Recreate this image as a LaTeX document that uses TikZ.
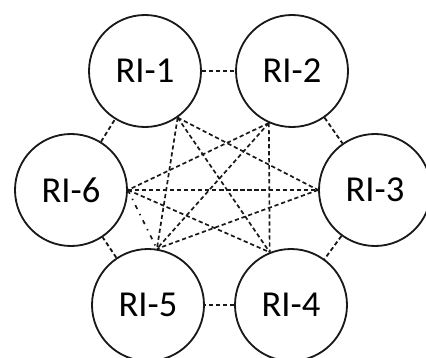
\documentclass[tikz,border=0pt]{standalone}
\usepackage{fontspec}
\setmainfont{Carlito}
\usetikzlibrary{arrows.meta}
\definecolor{myblack}{gray}{0.1}

\begin{document}
\begin{tikzpicture}[x=1cm, y=1cm,
    ri/.style={draw=myblack, circle, line width=1.3pt, minimum size=2.8cm, inner sep=0pt, font=\fontsize{26}{30}\selectfont},
    link/.style={draw=myblack, line width=1.3pt, dash pattern=on 3pt off 2pt},
    cross/.style={draw=myblack, line width=1.2pt, dash pattern=on 3pt off 2pt},
    weak/.style={draw=myblack, line width=1.2pt, dash pattern=on 3pt off 4pt on 1pt off 4pt}]
    \useasboundingbox (0,0) rectangle (10.65,-8.95);
    % routing instances
    \node[ri] (r1) at (3.625,-1.775) {RI-1};
    \node[ri] (r2) at (7.3,-1.775) {RI-2};
    \node[ri] (r3) at (9.375,-4.75) {RI-3};
    \node[ri] (r4) at (7.275,-7.625) {RI-4};
    \node[ri] (r5) at (3.7,-7.625) {RI-5};
    \node[ri] (r6) at (1.775,-4.75) {RI-6};
    % ring
    \draw[link] (r1) -- (r2);
    \draw[link] (r2) -- (r3);
    \draw[link] (r3) -- (r4);
    \draw[link] (r4) -- (r5);
    \draw[link] (r5) -- (r6);
    \draw[link] (r6) -- (r1);
    % mesh
    \draw[cross] (r1.-55) -- (r5.81);
    \draw[cross] (r1.-55) -- (r4.112);
    \draw[cross] (r1.-55) -- (r3.west);
    \draw[cross] (r2.-114) -- (r6.east);
    \draw[cross] (r2.-114) -- (r5.81);
    \draw[cross] (r2.-114) -- (r4.112);
    \draw[cross, line width=1.6pt] (r6.east) -- (r3.west);
    \draw[cross] (r6.east) -- (r4.112);
    \draw[cross] (r3.west) -- (r5.81);
    \draw[weak] (r6.east) -- (r5.81);
\end{tikzpicture}
\end{document}
